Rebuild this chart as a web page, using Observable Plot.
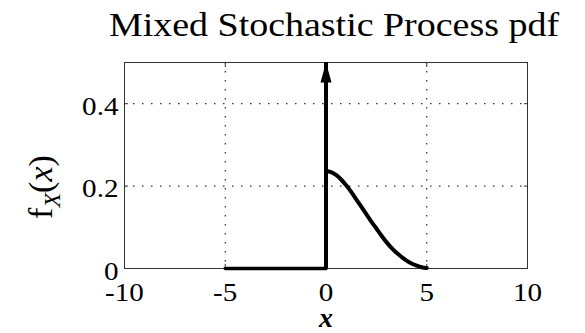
<!DOCTYPE html>
<html><head><meta charset="utf-8">
<script src="https://cdn.jsdelivr.net/npm/d3@7"></script>
<script src="https://cdn.jsdelivr.net/npm/@observablehq/plot@0.6"></script>
<style>
body{margin:0;background:#fff;}
#wrap{width:585px;height:333px;position:relative;overflow:hidden;background:#fff;}
#title{position:absolute;left:334px;top:9px;font-family:"Liberation Serif",serif;font-size:33px;line-height:33px;white-space:nowrap;transform:translateX(-50%) scaleX(1.15);color:#000;}
#chart{position:absolute;left:0;top:46px;}
</style></head><body>
<div id="wrap"><div id="title"></div><div id="chart"></div></div>
<script>
const titleText = "Mixed Stochastic Process pdf";
const xTicks = [-10, -5, 0, 5, 10];
const xTickLabels = ["-10", "-5", "0", "5", "10"];
const yTicks = [0, 0.2, 0.4];
const yTickLabels = ["0", "0.2", "0.4"];
const xDomain = [-10, 10];
const yDomain = [0, 0.5];
const baseX = [-5, 0];
const baseY = [0, 0];
const curveX = [0, 0.25, 0.5, 0.75, 1.0, 1.25, 1.5, 1.75, 2.0, 2.25, 2.5, 2.75, 3.0, 3.25, 3.5, 3.75, 4.0, 4.25, 4.5, 4.75, 5.0];
const curveY = [0.236, 0.234, 0.227, 0.216, 0.202, 0.186, 0.168, 0.150, 0.132, 0.114, 0.097, 0.080, 0.064, 0.050, 0.038, 0.028, 0.019, 0.012, 0.007, 0.003, 0.001];
const impulseX = [0];
const impulseTop = [0.5];
const xLabel = "x";
const yLabelMain = "f";
const yLabelSub = "X";
const yLabelArg = "x";

document.getElementById("title").textContent = titleText;

const base = baseX.map((x, i) => ({x, y: baseY[i]}));
const curve = curveX.map((x, i) => ({x, y: curveY[i]}));
const impulse = impulseX.map((x, i) => ({x, h: impulseTop[i]}));

const arrowHead = {
  draw(context) {
    context.moveTo(0, 0);
    context.lineTo(5.5, 20);
    context.lineTo(-5.5, 20);
    context.closePath();
  }
};

const fmtX = d => xTickLabels[xTicks.indexOf(d)];
const fmtY = d => yTickLabels[yTicks.indexOf(d)];
const blank = () => "";

const plot = Plot.plot({
  width: 585,
  height: 287,
  marginLeft: 124,
  marginRight: 58,
  marginTop: 16,
  marginBottom: 65,
  style: {fontFamily: "'Liberation Serif', serif", fontSize: "26px", color: "#000", background: "#fff", overflow: "visible"},
  x: {domain: xDomain},
  y: {domain: yDomain},
  marks: [
    Plot.gridX(xTicks, {stroke: "#000", strokeOpacity: 1, strokeWidth: 1, strokeDasharray: "1.5,7.5"}),
    Plot.gridY(yTicks, {stroke: "#000", strokeOpacity: 1, strokeWidth: 1, strokeDasharray: "1.5,7.5"}),
    Plot.frame({stroke: "#333", strokeWidth: 1}),
    Plot.axisX(xTicks, {anchor: "bottom", tickSize: -4, tickFormat: blank, label: null, stroke: "#333"}),
    Plot.axisX(xTicks, {anchor: "top", tickSize: -4, tickFormat: blank, label: null, stroke: "#333"}),
    Plot.axisY(yTicks, {anchor: "left", tickSize: -4, tickFormat: blank, label: null, stroke: "#333"}),
    Plot.axisY(yTicks, {anchor: "right", tickSize: -4, tickFormat: blank, label: null, stroke: "#333"}),
    Plot.axisX(xTicks, {anchor: "bottom", tickSize: 0, tickPadding: 14, tickFormat: fmtX, label: null, fontSize: 26}),
    Plot.axisY(yTicks, {anchor: "left", tickSize: 0, tickPadding: 6, tickFormat: fmtY, label: null, fontSize: 26, dy: 3}),
    Plot.line(base, {x: "x", y: "y", stroke: "#000", strokeWidth: 3.5}),
    Plot.line(curve, {x: "x", y: "y", stroke: "#000", strokeWidth: 4, curve: "catmull-rom"}),
    Plot.ruleX(impulse, {x: "x", y1: () => 0, y2: "h", stroke: "#000", strokeWidth: 4}),
    Plot.dot(impulse, {x: "x", y: "h", symbol: arrowHead, fill: "#000", stroke: "none", r: 5}),
    Plot.text([xLabel], {x: () => 0, frameAnchor: "bottom", text: d => d, dy: 58, lineAnchor: "bottom", fontSize: 28, fontStyle: "italic", fontWeight: "bold", fill: "#000"})
  ]
});

document.getElementById("chart").appendChild(plot);

const svg = d3.select(plot);
svg.selectAll('g[aria-label="x-axis tick label"] text, g[aria-label="y-axis tick label"] text').each(function() {
  const tr = this.getAttribute("transform") || "";
  this.setAttribute("transform", tr + " scale(1.12,1)");
});

const yl = svg.append("text")
  .attr("transform", "translate(52,141) rotate(-90)")
  .attr("text-anchor", "middle")
  .attr("font-family", "'Liberation Serif', serif")
  .attr("font-size", 34)
  .attr("fill", "#000");
yl.append("tspan").text(yLabelMain);
yl.append("tspan").attr("font-style", "italic").attr("font-size", 24).attr("dy", 8).text(yLabelSub);
yl.append("tspan").attr("dy", -8).text("(");
yl.append("tspan").attr("font-style", "italic").text(yLabelArg);
yl.append("tspan").text(")");
</script>
</body></html>
